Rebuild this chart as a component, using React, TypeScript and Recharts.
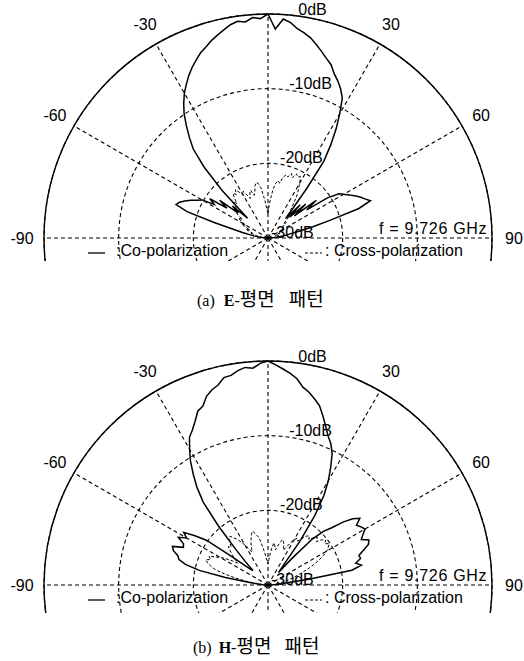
import React from 'react';
import { RadarChart, Radar, PolarGrid, PolarAngleAxis, PolarRadiusAxis } from 'recharts';

// angles in degrees, 0 = broadside, -90 left, 90 right
const angles = [
  -90, -88, -86, -84, -82, -80, -78, -76, -74, -72, -70, -68, -66, -64, -62, -60, -58, -56, -54, -52, -50, -48, -46,
  -44, -42, -40, -38, -36, -34, -32, -30, -28, -26, -24, -22, -20, -18, -16, -14, -12, -10, -8, -6, -4, -2, 0, 2, 4,
  6, 8, 10, 12, 14, 16, 18, 20, 22, 24, 26, 28, 30, 32, 34, 36, 38, 40, 42, 44, 46, 48, 50, 52, 54, 56, 58, 60, 62,
  64, 66, 68, 70, 72, 74, 76, 78, 80, 82, 84, 86, 88, 90,
];

// (a) E-plane, dB
const eCo = [
  -30, -29.6, -29.2, -28.8, -28.2, -27.6, -26.5, -25.2, -22.5, -18.6, -16.9, -17.2, -17.8, -18.5, -19.2, -19.8, -21.5,
  -20.6, -23.2, -21.8, -24.8, -23.6, -26.2, -21.2, -17.2, -14.4, -12.9, -11.4, -9.9, -8.7, -7.6, -6.7, -5.8, -5.0,
  -4.3, -3.6, -3.1, -2.5, -2.0, -1.5, -1.0, -0.7, -0.9, -0.4, -0.6, 0, -2.0, -0.6, -1.0, -1.7, -2.1, -2.6, -3.3, -4.0,
  -4.7, -5.3, -6.3, -7.0, -7.8, -8.8, -10.8, -12.8, -15.0, -17.3, -21.5, -24.8, -26.5, -23.8, -26.0, -23.2, -25.4,
  -21.8, -23.6, -20.4, -18.8, -18.3, -17.7, -17.1, -16.5, -16.0, -15.4, -17.2, -21.3, -23.8, -26.0, -27.2, -28.0,
  -28.6, -29.1, -29.6, -30,
];
const eCross = [
  -30, -29.8, -29.5, -29.2, -29, -28.6, -28.3, -28, -27.5, -27.8, -27.2, -26.8, -27.4, -26.5, -26, -26.6, -25.8, -25.2,
  -25.8, -24.8, -24.2, -24.8, -23.9, -23.2, -23.8, -23, -22.4, -22.8, -22.2, -22.8, -23.4, -22.9, -23.6, -24.2, -23.5,
  -23.2, -24, -23.6, -22.8, -22.4, -22.6, -23.2, -24.4, -25.3, -26.2, -26.8, -25.6, -24.6, -23.4, -22.6, -22.2, -22.5,
  -21.6, -21.2, -21.4, -20.8, -21.3, -20.6, -20.9, -20.7, -21.5, -22.3, -23, -24, -24.8, -25.4, -26.2, -25.8, -26.6,
  -27.2, -26.8, -27.4, -27.8, -27.5, -28, -28.2, -27.9, -28.4, -28.6, -28.3, -28.7, -28.9, -29, -29.1, -29.2, -29.3,
  -29.4, -29.5, -29.6, -29.8, -30,
];

// (b) H-plane, dB
const hCo = [
  -30, -29.6, -29.1, -28.5, -27.2, -24.2, -20.6, -18.6, -17.6, -17.3, -16.5, -16.2, -17.6, -17.4, -16.4, -17.4, -16.7,
  -18.2, -19.8, -23.6, -25.8, -26.8, -27.2, -25.6, -23.4, -19.6, -15.9, -13.8, -12.1, -10.4, -9.0, -7.6, -6.9, -6.0,
  -4.9, -4.5, -3.4, -2.8, -2.4, -1.6, -1.5, -1.0, -0.7, -0.9, -0.3, 0, -0.5, -1.0, -1.5, -2.1, -3.1, -3.6, -4.3, -5.0,
  -6.2, -7.4, -8.5, -9.3, -10.4, -12.1, -13.8, -15.9, -18.8, -22.6, -26.7, -27.8, -25.2, -21.4, -19.6, -18.6, -16.9,
  -15.6, -14.8, -15.7, -15.3, -15.0, -15.6, -16.1, -15.2, -15.5, -16.4, -17.2, -17.1, -17.9, -17.2, -18.6, -24.5,
  -28.0, -29.0, -29.6, -30,
];
const hCross = [
  -30, -29.6, -29.2, -28.8, -28, -27, -25.6, -24.2, -22.8, -22, -21.4, -21, -21.6, -21.2, -22, -22.6, -23.4, -24.2,
  -25, -24.4, -23.8, -23.2, -22.6, -22.9, -22.4, -22, -21.7, -22.2, -22.6, -23.2, -23.8, -24.5, -25.1, -24.6, -23.9,
  -23.4, -22.8, -22.5, -22.9, -23.3, -23.9, -24.8, -25.6, -26.3, -26.8, -27.2, -26.6, -25.8, -25, -24.3, -24.7, -25.2,
  -24.6, -24, -23.6, -23.9, -24.4, -24.9, -24.3, -23.6, -23, -22.6, -22.9, -22.3, -21.7, -21.4, -21.8, -21.2, -20.8,
  -21.3, -20.6, -20.2, -20.6, -20.1, -20.5, -20.9, -21.6, -22.4, -23.3, -24.2, -25.1, -25.9, -26.6, -27.2, -27.8,
  -28.3, -28.7, -29.1, -29.4, -29.7, -30,
];

const angleTicks = [-90, -60, -30, 0, 30, 60, 90, 120, 150, 180, 210, 240];
const dbDomain = [-30, 0];
const freqLabel = 'f = 9.726 GHz';

const rows = angles.map((a, i) => ({ angle: a, eCo: eCo[i], eCross: eCross[i], hCo: hCo[i], hCross: hCross[i] }));

const SANS = '"Liberation Sans", Arial, sans-serif';

const AngleTick = (props: any) => {
  const v = props.payload?.value;
  if (v === 0 || v > 90) return <g />;
  return (
    <text x={props.x} y={props.y} textAnchor="middle" dominantBaseline="central" fontSize={16} fontFamily={SANS} fill="#000">
      {v}
    </text>
  );
};

const RadiusTick = (props: any) => (
  <text x={props.x + 3} y={props.y - 6} textAnchor="start" dominantBaseline="central" fontSize={16} fontFamily={SANS} fill="#000">
    {`${props.payload?.value}dB`}
  </text>
);

function PolarPanel({ top, clip, coKey, crossKey }: { top: number; clip: number; coKey: string; crossKey: string }) {
  return (
    <div style={{ position: 'absolute', left: 0, top, width: 524, height: clip, overflow: 'hidden' }}>
      <RadarChart
        width={524}
        height={480}
        data={rows}
        cx={268}
        cy={238}
        outerRadius={224}
        startAngle={180}
        endAngle={-180}
        margin={{ top: 0, right: 0, bottom: 0, left: 0 }}
      >
        <PolarGrid gridType="circle" stroke="#000" strokeWidth={1.1} strokeDasharray="4 3" />
        <PolarAngleAxis
          dataKey="angle"
          type="number"
          domain={[-90, 270]}
          ticks={angleTicks}
          axisLineType="circle"
          axisLine={{ stroke: '#000', strokeWidth: 1.4 }}
          tickLine={false}
          tickSize={22}
          tick={AngleTick}
        />
        <PolarRadiusAxis
          angle={83}
          type="number"
          domain={dbDomain}
          tickCount={4}
          axisLine={false}
          tickLine={false}
          tick={RadiusTick}
        />
        <Radar dataKey={crossKey} stroke="#000" strokeWidth={1} strokeDasharray="3 2" fill="none" fillOpacity={0} dot={false} isAnimationActive={false} />
        <Radar dataKey={coKey} stroke="#000" strokeWidth={1.5} fill="none" fillOpacity={0} dot={false} isAnimationActive={false} />
      </RadarChart>
      <div style={{ position: 'absolute', left: 379, top: 220, fontFamily: SANS, fontSize: 16, letterSpacing: 0.7, whiteSpace: 'pre' }}>{freqLabel}</div>
      <svg style={{ position: 'absolute', left: 0, top: 0 }} width={524} height={clip}>
        <line x1={88} x2={105} y1={253} y2={253} stroke="#000" strokeWidth={1.3} />
        <line x1={305} x2={322} y1={253} y2={253} stroke="#000" strokeWidth={1} strokeDasharray="3 2" />
      </svg>
      <div style={{ position: 'absolute', left: 116, top: 242, fontFamily: SANS, fontSize: 16, whiteSpace: 'pre' }}>:Co-polarization</div>
      <div style={{ position: 'absolute', left: 325, top: 242, fontFamily: SANS, fontSize: 16, whiteSpace: 'pre' }}>: Cross-polarization</div>
    </div>
  );
}

const captionStyle: React.CSSProperties = {
  position: 'absolute',
  fontFamily: '"Liberation Serif", serif',
  fontSize: 16,
  whiteSpace: 'pre',
  lineHeight: '20px',
  height: 20,
};
const hangul: React.CSSProperties = { fontFamily: '"Noto Sans CJK KR", sans-serif', fontSize: 19, lineHeight: '20px' };

export default function App() {
  return (
    <div style={{ position: 'absolute', left: 0, top: 0, width: 524, height: 661, background: '#fff' }}>
      <PolarPanel top={0} clip={261} coKey="eCo" crossKey="eCross" />
      <PolarPanel top={347} clip={266} coKey="hCo" crossKey="hCross" />
      <div style={{ ...captionStyle, left: 197, top: 288 }}>
        (a)<b style={{ marginLeft: 9 }}>E</b>-<span style={hangul}>평면</span>
        <span style={{ ...hangul, marginLeft: 14 }}>패턴</span>
      </div>
      <div style={{ ...captionStyle, left: 193, top: 635 }}>
        (b)<b style={{ marginLeft: 7 }}>H</b>-<span style={hangul}>평면</span>
        <span style={{ ...hangul, marginLeft: 13 }}>패턴</span>
      </div>
    </div>
  );
}
